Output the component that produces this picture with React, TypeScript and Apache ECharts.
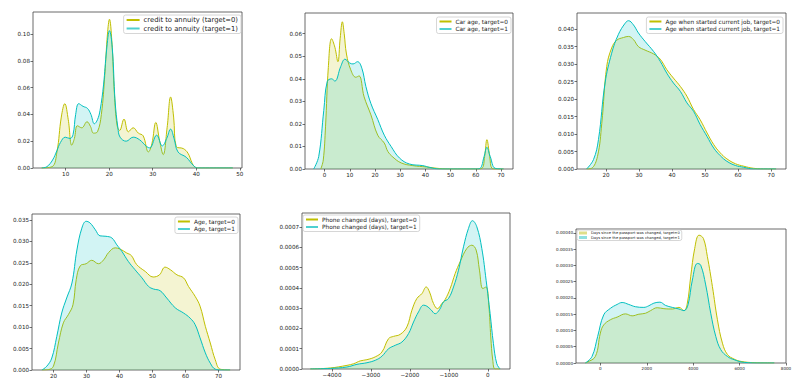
import React, { useEffect, useRef } from "react";
import * as echarts from "echarts";

// ---------- DATA ----------
// Panel 1: credit to annuity
const p1X0 = [4.5, 6.9, 8.0, 9.0, 9.8, 10.6, 11.4, 12.0, 12.7, 13.7, 14.9, 15.7, 16.4, 17.3, 18.2, 19.0, 19.6, 20.06, 20.6, 21.2, 21.8, 22.4, 23.4, 24.4, 25.5, 26.7, 27.8, 29.0, 29.8, 30.7, 31.6, 32.4, 33.3, 34.1, 34.8, 35.4, 37.0, 38.1, 39.0, 39.6, 40.5, 44, 48.4];
const p1Y0 = [0, 0.001, 0.012, 0.038, 0.048, 0.036, 0.017, 0.022, 0.0315, 0.030, 0.0345, 0.031, 0.026, 0.027, 0.040, 0.070, 0.100, 0.111, 0.095, 0.055, 0.032, 0.028, 0.0365, 0.027, 0.030, 0.026, 0.024, 0.012, 0.018, 0.034, 0.020, 0.010, 0.030, 0.053, 0.038, 0.016, 0.0145, 0.011, 0.004, 0.001, 0, 0, 0];
const p1X1 = [4.5, 5.7, 7.0, 8.0, 8.8, 9.9, 11.0, 11.7, 12.3, 13.0, 14.0, 15.0, 15.8, 16.6, 17.3, 17.9, 18.7, 19.4, 20.06, 20.7, 21.35, 22.0, 22.5, 23.9, 25.5, 27.0, 28.6, 29.3, 30.9, 32.2, 33.2, 34.1, 34.9, 35.8, 37.7, 39.3, 40.3, 44, 48.4];
const p1Y1 = [0, 0.001, 0.006, 0.013, 0.019, 0.023, 0.022, 0.025, 0.040, 0.048, 0.046, 0.0445, 0.040, 0.033, 0.036, 0.043, 0.062, 0.088, 0.1025, 0.090, 0.050, 0.030, 0.023, 0.020, 0.023, 0.021, 0.016, 0.015, 0.0245, 0.0165, 0.022, 0.029, 0.022, 0.012, 0.008, 0.002, 0, 0, 0];

// Panel 2: car age
const p2X0 = [-1.5, -0.5, 0.4, 1.5, 2.8, 4.1, 5.3, 6.2, 7.07, 7.8, 8.7, 10.4, 12.4, 13.7, 15.7, 18.4, 21.1, 23.7, 25.1, 27.1, 30.4, 35, 40.4, 45.7, 50, 60, 62.4, 63.5, 64.4, 65.5, 66.4, 68, 71];
const p2Y0 = [0, 0.004, 0.019, 0.045, 0.0578, 0.054, 0.0476, 0.058, 0.0653, 0.060, 0.051, 0.044, 0.0407, 0.0413, 0.032, 0.024, 0.015, 0.0115, 0.0078, 0.0053, 0.0027, 0.0015, 0.0009, 0.0002, 0, 0, 0.0003, 0.0056, 0.013, 0.0056, 0.0003, 0, 0];
const p2X1 = [-4.3, -2.3, -0.3, 1.07, 2.8, 4.1, 6.4, 8.1, 10, 11.3, 13.1, 14.8, 16.4, 18.4, 21.1, 23.7, 26.4, 29.7, 33.7, 39, 41.7, 45.7, 60, 61.7, 63.3, 64.4, 65.7, 67.7, 71];
const p2Y1 = [0, 0.0056, 0.026, 0.0388, 0.040, 0.039, 0.0454, 0.0487, 0.047, 0.0466, 0.0476, 0.0447, 0.0366, 0.029, 0.022, 0.015, 0.010, 0.0049, 0.0022, 0.0015, 0.0007, 0, 0, 0.0003, 0.0056, 0.0096, 0.0056, 0.0003, 0];

// Panel 3: age when started current job
const p3X0 = [14.1, 15.6, 17.4, 18.7, 20.2, 21.7, 23.2, 25.3, 26.8, 28.3, 29.8, 31.8, 34.4, 36.4, 38.4, 40.4, 42.5, 44.5, 46.5, 48.5, 50.6, 52.6, 54.6, 56.6, 59.2, 61.7, 64.7, 68.8, 71.5];
const p3Y0 = [0, 0.0002, 0.0036, 0.013, 0.0293, 0.0346, 0.0368, 0.0376, 0.0379, 0.037, 0.035, 0.034, 0.0329, 0.0314, 0.0284, 0.026, 0.0236, 0.0208, 0.017, 0.0141, 0.0103, 0.007, 0.0046, 0.0029, 0.0015, 0.0008, 0.0002, 0, 0];
const p3X1 = [14.1, 16.2, 17.7, 19.7, 21.7, 23.7, 25.8, 26.8, 28.3, 29.8, 31.8, 34.4, 36.4, 38.4, 40.4, 42.5, 44.5, 46.5, 48.5, 50.6, 52.6, 54.6, 56.6, 59.2, 61.7, 64.7, 68.8, 71.5];
const p3Y1 = [0, 0.0027, 0.0084, 0.0246, 0.0331, 0.0384, 0.0417, 0.0424, 0.0412, 0.0389, 0.0365, 0.0336, 0.0308, 0.0274, 0.0246, 0.0222, 0.0189, 0.0165, 0.0127, 0.0093, 0.006, 0.0038, 0.0022, 0.001, 0.0005, 0, 0, 0];

// Panel 4: age
const p4X0 = [16.5, 18.5, 20, 21.5, 23, 24.5, 25.9, 26.9, 28.1, 29.9, 31.6, 33.6, 35.2, 36.7, 38.7, 40.2, 42.2, 43.6, 45.2, 47.8, 50.2, 52.1, 53.8, 55.4, 57.4, 59.4, 60.9, 62.9, 64.4, 66, 67.5, 69, 70.5, 73.5];
const p4Y0 = [0, 0.0001, 0.0009, 0.0063, 0.011, 0.0129, 0.0152, 0.0211, 0.0243, 0.0248, 0.0256, 0.0248, 0.0257, 0.0274, 0.0285, 0.0282, 0.0273, 0.0267, 0.0246, 0.023, 0.0217, 0.0222, 0.024, 0.0234, 0.0222, 0.0215, 0.0195, 0.0172, 0.0149, 0.0102, 0.0063, 0.0024, 0.0002, 0];
const p4X1 = [16.5, 18, 19.5, 21, 22.5, 24, 25.6, 27.1, 28.6, 29.9, 31.1, 32.7, 34.1, 35.9, 37.7, 39.2, 40.7, 42.7, 44.7, 46.8, 48.8, 50.3, 52.3, 54.3, 56.9, 59.4, 61.4, 62.9, 64.4, 66, 67.5, 69, 71, 73.5];
const p4Y1 = [0, 0.0009, 0.0028, 0.0078, 0.0133, 0.0168, 0.0203, 0.028, 0.0331, 0.0347, 0.0343, 0.0327, 0.0313, 0.0312, 0.0308, 0.0292, 0.0277, 0.0253, 0.0234, 0.0215, 0.0195, 0.0189, 0.0185, 0.0168, 0.0145, 0.0133, 0.0121, 0.0106, 0.0075, 0.004, 0.0016, 0.0002, 0, 0];

// Panel 5: phone changed (days)
const p5X0 = [-4555, -4043, -3615, -3444, -3274, -3103, -2889, -2718, -2547, -2419, -2248, -2077, -1949, -1821, -1692, -1581, -1496, -1393, -1291, -1180, -1094, -966, -838, -709, -538, -410, -299, -214, -128, -43, 26, 77, 128, 188, 316];
const p5Y0 = [0, 0.000005, 0.000018, 0.000026, 0.00004, 0.000046, 0.00006, 0.000084, 0.00015, 0.000161, 0.000171, 0.000208, 0.00029, 0.000348, 0.000372, 0.000405, 0.00038, 0.000323, 0.000298, 0.000323, 0.000343, 0.000397, 0.000471, 0.00053, 0.000595, 0.000611, 0.000587, 0.000488, 0.000397, 0.000405, 0.000315, 0.000158, 0.000043, 0, 0];
const p5X1 = [-4555, -4043, -3615, -3359, -3103, -2889, -2718, -2547, -2376, -2205, -2034, -1906, -1778, -1650, -1564, -1462, -1350, -1239, -1137, -1009, -880, -752, -624, -496, -393, -282, -154, -43, 60, 145, 231, 316];
const p5Y1 = [0, 0.000003, 0.00001, 0.000023, 0.000031, 0.000043, 0.000063, 0.0001, 0.000117, 0.000133, 0.000175, 0.000232, 0.000282, 0.000315, 0.00031, 0.000293, 0.000273, 0.000293, 0.000331, 0.000348, 0.000405, 0.000488, 0.000603, 0.000694, 0.000732, 0.000702, 0.000595, 0.000438, 0.000273, 0.000125, 0.000026, 0];

// Panel 6: days since passport changed
const p6X0 = [-649, -577, -216, 0, 144, 432, 721, 1081, 1369, 1658, 1946, 2162, 2450, 2739, 3099, 3387, 3603, 3748, 3892, 4065, 4252, 4440, 4612, 4829, 5045, 5261, 5477, 5766, 6054, 6631, 7495];
const p6Y0 = [0, 0.000002, 0.00002, 0.000092, 0.000117, 0.000133, 0.000141, 0.000151, 0.000145, 0.00015, 0.000153, 0.000161, 0.00017, 0.000167, 0.000166, 0.000171, 0.000161, 0.000184, 0.000265, 0.000352, 0.000393, 0.000383, 0.000327, 0.000235, 0.000133, 0.000061, 0.000026, 0.000012, 0.000005, 0.000001, 0];
const p6X1 = [-649, -360, -115, 144, 432, 721, 937, 1225, 1514, 1874, 2090, 2306, 2566, 2811, 3099, 3387, 3603, 3777, 3964, 4180, 4324, 4540, 4757, 4973, 5189, 5477, 5766, 6198, 6919, 7495];
const p6Y1 = [0, 0.00002, 0.000082, 0.000148, 0.000168, 0.00018, 0.000186, 0.00018, 0.000173, 0.000171, 0.000176, 0.000184, 0.000187, 0.000177, 0.000171, 0.000166, 0.000161, 0.000179, 0.000255, 0.000306, 0.000301, 0.00024, 0.000153, 0.000082, 0.000041, 0.00002, 0.00001, 0.000002, 0, 0];

// Series names
const names1 = ["credit to annuity (target=0)", "credit to annuity (target=1)"];
const names2 = ["Car age, target=0", "Car age, target=1"];
const names3 = ["Age when started current job, target=0", "Age when started current job, target=1"];
const names4 = ["Age, target=0", "Age, target=1"];
const names5 = ["Phone changed (days), target=0", "Phone changed (days), target=1"];
const names6 = ["Days since the passport was changed, target=0", "Days since the passport was changed, target=1"];

// Tick values
const p1XTicks = [10, 20, 30, 40, 50];
const p2XTicks = [0, 10, 20, 30, 40, 50, 60, 70];
const p3XTicks = [20, 30, 40, 50, 60, 70];
const p4XTicks = [20, 30, 40, 50, 60, 70];
const p5XTicks = [-4000, -3000, -2000, -1000, 0];
const p6XTicks = [0, 2000, 4000, 6000, 8000];

const FONT = "DejaVu Sans";
const YEL = "#bfbf00";
const CYA = "#00bfbf";
const YEL_FILL = "rgba(191,191,0,0.25)";
const CYA_FILL = "rgba(0,191,191,0.25)";

const ticks = (step: number, n: number) => Array.from({ length: n }, (_, i) => +(i * step).toPrecision(10));

type Panel = {
  rect: [number, number, number, number];
  xMin: number; xMax: number; xTicks: number[];
  yMax: number; yTicks: number[]; yDec: number;
  x0: number[]; y0: number[]; x1: number[]; y1: number[];
  names: string[];
  legend: any;
  font: number; legendFont: number; legendIconW: number; legendIconH: number;
};

const panels: Panel[] = [
  { rect: [33, 12, 209, 156], xMin: 2.5, xMax: 50.5, xTicks: p1XTicks, yMax: 0.1164, yTicks: ticks(0.02, 6), yDec: 2,
    x0: p1X0, y0: p1Y0, x1: p1X1, y1: p1Y1, names: names1, legend: { right: 559, top: 15 }, font: 5.6, legendFont: 6.8, legendIconW: 13, legendIconH: 2 },
  { rect: [305, 13, 208, 156], xMin: -7.75, xMax: 74.75, xTicks: p2XTicks, yMax: 0.0692, yTicks: ticks(0.01, 7), yDec: 2,
    x0: p2X0, y0: p2Y0, x1: p2X1, y1: p2Y1, names: names2, legend: { right: 289, top: 17 }, font: 5.6, legendFont: 5.8, legendIconW: 12, legendIconH: 2 },
  { rect: [577, 13, 209, 156], xMin: 11.2, xMax: 74.5, xTicks: p3XTicks, yMax: 0.0446, yTicks: ticks(0.005, 9), yDec: 3,
    x0: p3X0, y0: p3Y0, x1: p3X1, y1: p3Y1, names: names3, legend: { right: 17, top: 17 }, font: 5.6, legendFont: 5.8, legendIconW: 12, legendIconH: 2 },
  { rect: [32, 214, 208, 156], xMin: 13.5, xMax: 76.5, xTicks: p4XTicks, yMax: 0.0364, yTicks: ticks(0.005, 8), yDec: 3,
    x0: p4X0, y0: p4Y0, x1: p4X1, y1: p4Y1, names: names4, legend: { right: 562, top: 217 }, font: 5.6, legendFont: 5.8, legendIconW: 12, legendIconH: 2 },
  { rect: [302, 213, 208, 156], xMin: -4770, xMax: 570, xTicks: p5XTicks, yMax: 0.00077, yTicks: ticks(0.0001, 8), yDec: 4,
    x0: p5X0, y0: p5Y0, x1: p5X1, y1: p5Y1, names: names5, legend: { left: 303, top: 215 }, font: 5.6, legendFont: 5.8, legendIconW: 12, legendIconH: 2 },
  { rect: [576, 229, 210, 134], xMin: -1050, xMax: 8000, xTicks: p6XTicks, yMax: 0.000412, yTicks: ticks(0.00005, 9), yDec: 5,
    x0: p6X0, y0: p6Y0, x1: p6X1, y1: p6Y1, names: names6, legend: { left: 577, top: 230 }, font: 4.1, legendFont: 3.7, legendIconW: 8, legendIconH: 3 },
];

const zip = (xs: number[], ys: number[]) => xs.map((x, i) => [x, ys[i]]);
const fmtX = (v: number) => (v < 0 ? "\u2212" + Math.abs(v) : String(v));

export default function App() {
  const ref = useRef<HTMLDivElement>(null);
  useEffect(() => {
    if (!ref.current) return;
    const chart = echarts.init(ref.current, undefined, { renderer: "svg" });
    const grid = panels.map((p) => ({
      left: p.rect[0], top: p.rect[1], width: p.rect[2], height: p.rect[3],
      show: true, borderColor: "#444", borderWidth: 0.8, backgroundColor: "transparent",
    }));
    const xAxis = panels.map((p, i) => ({
      type: "value", gridIndex: i, min: p.xMin, max: p.xMax, position: "bottom",
      axisLine: { show: false, onZero: false }, splitLine: { show: false },
      axisTick: { show: true, length: 2.5, lineStyle: { color: "#333", width: 0.7 }, customValues: p.xTicks },
      axisLabel: { customValues: p.xTicks, fontSize: p.font, fontFamily: FONT, color: "#222", margin: 3, formatter: (v: number) => fmtX(v) },
    }));
    const yAxis = panels.map((p, i) => ({
      type: "value", gridIndex: i, min: 0, max: p.yMax, position: "left",
      axisLine: { show: false, onZero: false }, splitLine: { show: false },
      axisTick: { show: true, length: 2.5, lineStyle: { color: "#333", width: 0.7 }, customValues: p.yTicks },
      axisLabel: { customValues: p.yTicks, fontSize: p.font, fontFamily: FONT, color: "#222", margin: 3, formatter: (v: number) => v.toFixed(p.yDec) },
    }));
    const series: any[] = [];
    panels.forEach((p, i) => {
      series.push({
        type: "line", name: p.names[0], xAxisIndex: i, yAxisIndex: i, data: zip(p.x0, p.y0),
        smooth: 0.4, showSymbol: false, symbol: "none", lineStyle: { color: YEL, width: 1 },
        itemStyle: { color: YEL }, areaStyle: { color: YEL_FILL }, z: 2,
      });
      series.push({
        type: "line", name: p.names[1], xAxisIndex: i, yAxisIndex: i, data: zip(p.x1, p.y1),
        smooth: 0.4, showSymbol: false, symbol: "none", lineStyle: { color: CYA, width: 1 },
        itemStyle: { color: CYA }, areaStyle: { color: CYA_FILL }, z: 3,
      });
    });
    const legend = panels.map((p, i) => ({
      ...p.legend,
      orient: "vertical",
      data: [
        { name: p.names[0], icon: "rect", itemStyle: { color: i === 5 ? "#dede8a" : YEL } },
        { name: p.names[1], icon: "rect", itemStyle: { color: i === 5 ? "#8fe0e0" : "#4fd0d0" } },
      ],
      itemWidth: p.legendIconW, itemHeight: p.legendIconH, itemGap: i === 5 ? 0.5 : 1.5,
      padding: i === 5 ? [1, 2] : [1.5, 3],
      textStyle: { fontSize: p.legendFont, fontFamily: FONT, color: "#222", padding: [0, 0, 0, -1] },
      borderColor: "#ccc", borderWidth: 0.8, borderRadius: 2, backgroundColor: "rgba(255,255,255,0.8)",
      selectedMode: false,
    }));
    chart.setOption({
      animation: false,
      backgroundColor: "#fff",
      grid, xAxis, yAxis, series, legend,
    });
    return () => chart.dispose();
  }, []);
  return <div ref={ref} style={{ position: "absolute", left: 0, top: 0, width: 800, height: 388 }} />;
}
